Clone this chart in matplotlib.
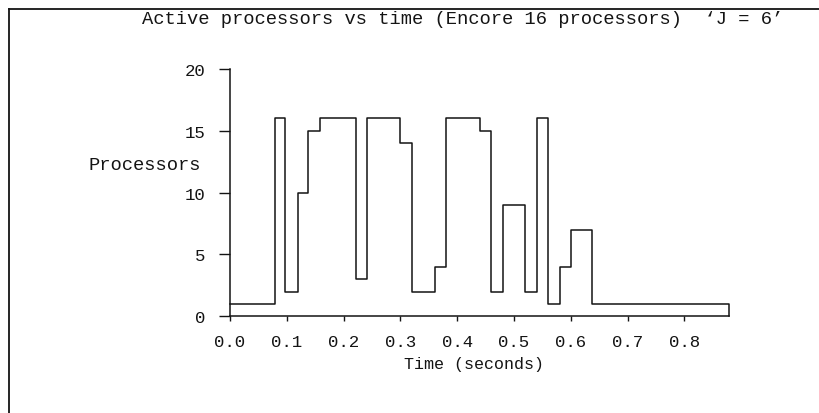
import matplotlib
matplotlib.use("Agg")
import matplotlib.pyplot as plt
from matplotlib.lines import Line2D

# Step data: time (s) at which active-processor count changes, and the new count
times = [0.000, 0.080, 0.097, 0.120, 0.138, 0.158, 0.221, 0.241, 0.300, 0.321,
         0.361, 0.381, 0.440, 0.459, 0.481, 0.519, 0.540, 0.559, 0.581, 0.600,
         0.638, 0.879]
processors = [1, 16, 2, 10, 15, 16, 3, 16, 14, 2,
              4, 16, 15, 2, 9, 2, 16, 1, 4, 7,
              1, 0]

x_ticks = [0.0, 0.1, 0.2, 0.3, 0.4, 0.5, 0.6, 0.7, 0.8]
y_ticks = [0, 5, 10, 15, 20]

title = "Active processors vs time (Encore 16 processors)  \u2018J = 6\u2019"
xlabel = "Time (seconds)"
ylabel = "Processors"

ink = "#141414"
font = ["Liberation Mono", "DejaVu Sans Mono"]
plt.rcParams["font.family"] = font

fig = plt.figure(figsize=(8.2, 4.14), dpi=100)
fig.patch.set_facecolor("white")

ax = fig.add_axes([230 / 820, 1 - 317.3 / 414, 499.3 / 820, 247.3 / 414])
ax.step(times, processors, where="post", color=ink, lw=1.1, clip_on=False)

ax.set_xlim(0, times[-1])
ax.set_ylim(0, 20)
ax.set_xticks(x_ticks)
ax.set_xticklabels([f"{t:.1f}" for t in x_ticks])
ax.set_yticks(y_ticks)
ax.set_yticklabels([str(v) for v in y_ticks])

for s in ["top", "right"]:
    ax.spines[s].set_visible(False)
for s in ["left", "bottom"]:
    ax.spines[s].set_color(ink)
    ax.spines[s].set_linewidth(1.1)
ax.spines["left"].set_bounds(0, 20)
ax.spines["bottom"].set_bounds(0, times[-1])

ax.tick_params(axis="x", direction="out", length=3.8, width=1.0, color=ink,
               labelsize=12.5, labelcolor=ink, pad=9)
ax.tick_params(axis="y", direction="out", length=8, width=1.0, color=ink,
               labelsize=12.5, labelcolor=ink, pad=10)

ax.set_xlabel(xlabel, fontsize=12, color=ink)
ax.xaxis.set_label_coords((474 - 230) / 499.3, (317.3 - 365) / 247.3)
ax.xaxis.label.set_verticalalignment("center")

ax.set_ylabel(ylabel, fontsize=13.5, color=ink, rotation=0, ha="right", va="center")
ax.yaxis.set_label_coords((201 - 230) / 499.3, (317.3 - 166) / 247.3)

fig.text(463 / 820, 1 - 20 / 414, title, ha="center", va="center",
         fontsize=13.5, color=ink)

# Scanned page border (top and left edges)
fig.add_artist(Line2D([9 / 820, 9 / 820], [0, 1 - 10 / 414], color=ink, lw=1.3,
                      transform=fig.transFigure))
fig.add_artist(Line2D([9 / 820, 1], [1 - 10 / 414, 1 - 10 / 414], color=ink, lw=1.3,
                      transform=fig.transFigure))

fig.savefig("out.png", dpi=100, facecolor="white")
